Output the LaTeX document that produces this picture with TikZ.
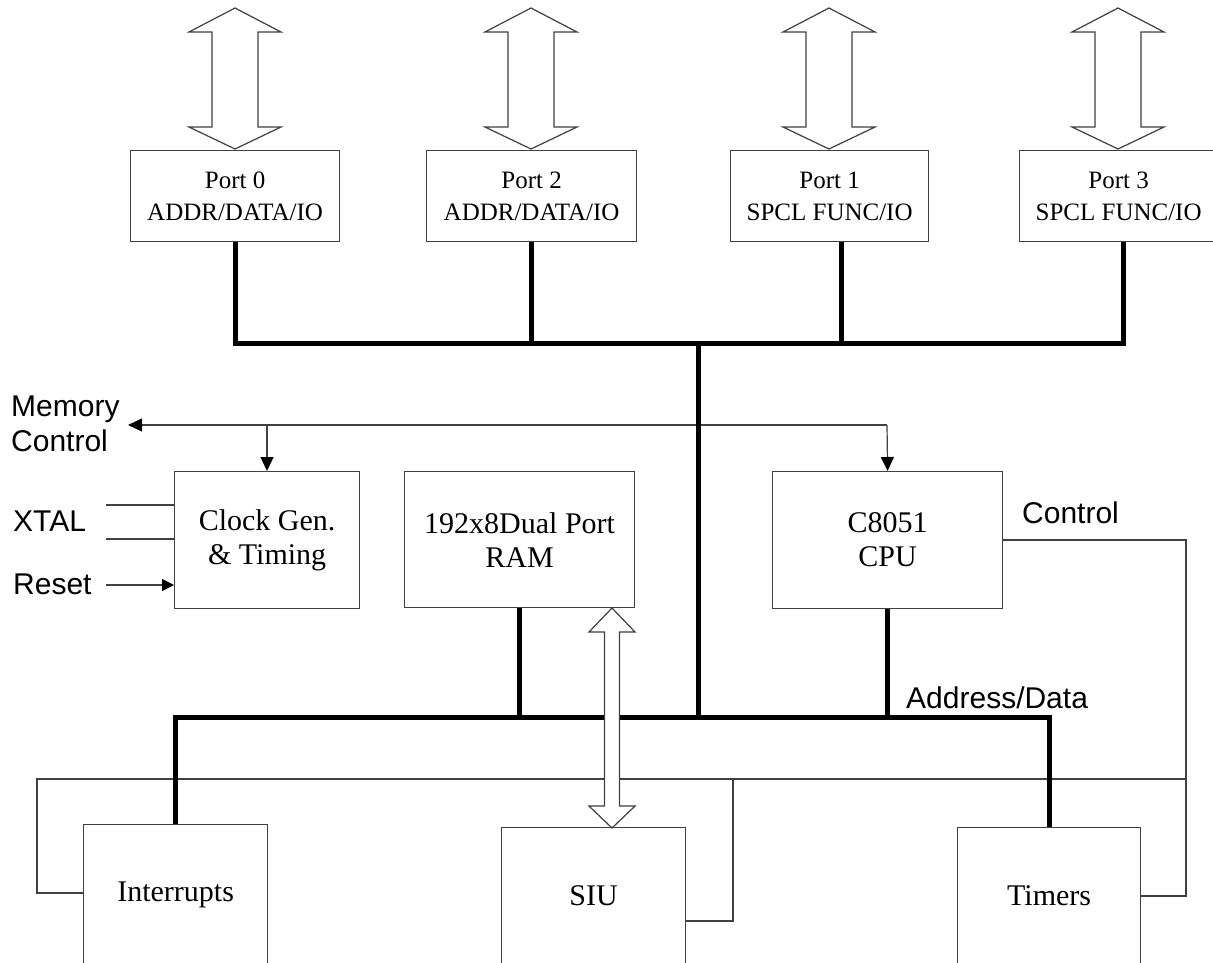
\documentclass[tikz,border=0pt]{standalone}
\usepackage{fontspec}
\setmainfont{Liberation Serif}
\newfontfamily\labelfont{Liberation Sans}
\usetikzlibrary{arrows.meta}
\begin{document}
\begin{tikzpicture}[x=1pt,y=-1pt,
  box/.style={draw=black!75,line width=1.2pt,fill=white,inner sep=0pt,align=center,anchor=north west},
  portbox/.style={box,minimum height=91pt,font=\fontsize{25}{32}\selectfont},
  bigbox/.style={box,font=\fontsize{30}{34}\selectfont},
  thinline/.style={draw=black!75,line width=1.2pt},
  bus/.style={draw=black,line width=5pt,line join=miter},
  hollow/.style={draw=black!75,line width=1.2pt,fill=white,line join=miter},
  lbl/.style={font=\labelfont\fontsize{30}{35}\selectfont,anchor=west,inner sep=0pt,align=left},
  tip/.style={-{Triangle[length=14pt,width=13pt,color=black]}},
  dblarrow/.pic={\draw[hollow] (0,0) -- (46,24) -- (23,24) -- (23,119) -- (46,119) -- (0,141) -- (-46,119) -- (-23,119) -- (-23,24) -- (-46,24) -- cycle;}
]
\useasboundingbox[fill=white] (0,0) rectangle (1213,962);

% port boxes
\node[portbox,minimum width=209pt] (p0) at (130,150) {Port 0\\ADDR/DATA/IO};
\node[portbox,minimum width=210pt] (p2) at (426,150) {Port 2\\ADDR/DATA/IO};
\node[portbox,minimum width=198pt] (p1) at (730,150) {Port 1\\SPCL FUNC/IO};
\node[portbox,minimum width=198pt] (p3) at (1019,150) {Port 3\\SPCL FUNC/IO};

% port arrows
\pic at (235,8) {dblarrow};
\pic at (531,8) {dblarrow};
\pic at (829,8) {dblarrow};
\pic at (1118,8) {dblarrow};

% middle boxes
\node[bigbox,minimum width=185pt,minimum height=137pt] (clk) at (174,471) {Clock Gen.\\\& Timing};
\node[bigbox,minimum width=230pt,minimum height=136pt] (ram) at (404,471) {192x8Dual Port\\RAM};
\node[bigbox,minimum width=230pt,minimum height=137pt] (cpu) at (772,471) {C8051\\CPU};

% bottom boxes
\node[bigbox,minimum width=184pt,minimum height=140pt] (int) at (83,824) {Interrupts};
\node[bigbox,minimum width=184pt,minimum height=137pt] (siu) at (501,827) {SIU};
\node[bigbox,minimum width=183pt,minimum height=137pt] (tim) at (957,827) {Timers};

% coordinates
\coordinate (b0) at (235,343);
\coordinate (b2) at (531,343);
\coordinate (b1) at (841,343);
\coordinate (b3) at (1123,343);
\coordinate (bm) at (698,343);
\coordinate (lm) at (698,717);
\coordinate (mc) at (887,425);
\coordinate (mcend) at (128,425);
\coordinate (mcclk) at (267,425);
\coordinate (ctl1) at (1186,540);
\coordinate (ctl2) at (1186,896);
\coordinate (cl) at (37,779);
\coordinate (cr) at (1186,779);
\coordinate (cs) at (733,779);

% thin control lines
\draw[thinline] (cpu.east |- ctl1) -- (ctl1) -- (ctl2) -- (tim.east |- ctl2);
\draw[thinline] (cr) -- (cl) -- (37,893) -- (int.west |- 0,893);
\draw[thinline] (siu.east |- 0,921) -- (733,921) -- (cs);

% memory control
\draw[thinline,tip] (mc) -- (mcend);
\draw[thinline,tip] (mc) -- (cpu.north);
\draw[thinline,tip] (mcclk) -- (clk.north -| mcclk);

% xtal / reset
\draw[thinline] (106,505) -- (clk.west |- 0,505);
\draw[thinline] (106,539) -- (clk.west |- 0,539);
\draw[thinline,-{Triangle[length=12pt,width=12pt,color=black]}] (106,585) -- (clk.west |- 0,585);

% buses
\draw[bus] (p0.south -| b0) -- (b0) -- (b3) -- (p3.south -| b3);
\draw[bus] (p2.south -| b2) -- (b2);
\draw[bus] (p1.south -| b1) -- (b1);
\draw[bus] (bm) -- (lm);
\draw[bus] (int.north) -- (int.north |- lm) -- (tim.north |- lm) -- (tim.north);
\draw[bus] (ram.south) -- (ram.south |- lm);
\draw[bus] (cpu.south) -- (cpu.south |- lm);

% SIU double arrow
\draw[hollow] (612,608) -- (635,632) -- (619.5,632) -- (619.5,806) -- (635,806) -- (612,828)
  -- (589,806) -- (604.5,806) -- (604.5,632) -- (589,632) -- cycle;

% labels
\node[lbl] (lmem) at (11,424) {Memory\\Control};
\node[lbl] (lxtal) at (13,521) {XTAL};
\node[lbl] (lres) at (13,584) {Reset};
\node[lbl] (lctl) at (1022,513) {Control};
\node[lbl] (lad) at (906,698) {Address/Data};
\end{tikzpicture}
\end{document}
